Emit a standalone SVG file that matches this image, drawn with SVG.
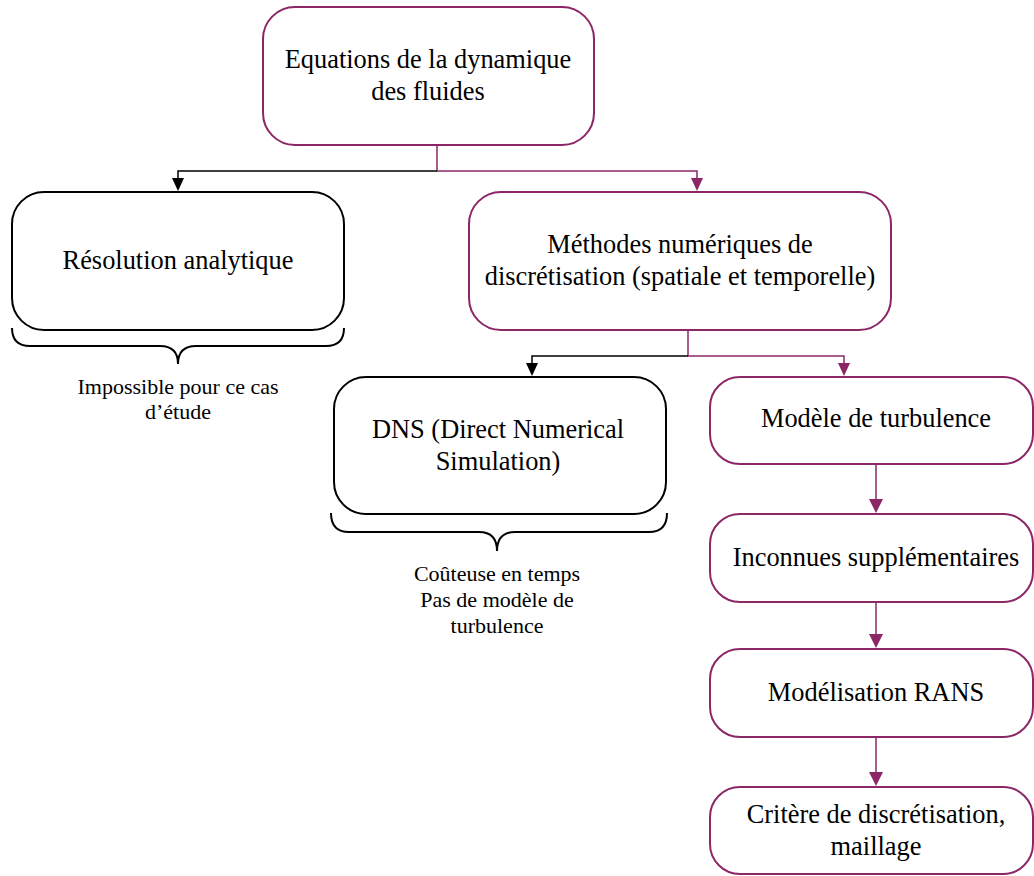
<svg xmlns="http://www.w3.org/2000/svg" width="1034" height="876" viewBox="0 0 1034 876">
<defs>
<style>
.box{fill:#fff;stroke-width:2}
.p{stroke:#8B2766}
.k{stroke:#000}
.t{font-family:"Liberation Serif","Times New Roman",serif;font-size:26.4px;fill:#000;text-anchor:middle}
.s{font-family:"Liberation Serif","Times New Roman",serif;font-size:22px;fill:#000;text-anchor:middle}
.ln{fill:none;stroke-width:1.5}
.br{fill:none;stroke:#000;stroke-width:2}
</style>
</defs>
<rect width="1034" height="876" fill="#fff"/>
<g id="connectors">
<path class="ln" d="M437,145 V171 H697 V180" stroke="#8B2766"/>
<path d="M691,178 L703,178 L697,191 Z" fill="#8B2766"/>
<path class="ln" d="M437,171 H178 V180" stroke="#000"/>
<path d="M172,178 L184,178 L178,191 Z" fill="#000"/>
<path class="ln" d="M688,330 V356 H844 V365" stroke="#8B2766"/>
<path d="M838,363 L850,363 L844,376 Z" fill="#8B2766"/>
<path class="ln" d="M688,356 H532 V365" stroke="#000"/>
<path d="M526,363 L538,363 L532,376 Z" fill="#000"/>
<path class="ln" d="M876,464 V500" stroke="#8B2766" stroke-width="2"/>
<path d="M869,499 L883,499 L876,513 Z" fill="#8B2766"/>
<path class="ln" d="M876,602 V635" stroke="#8B2766" stroke-width="2"/>
<path d="M869,634 L883,634 L876,648 Z" fill="#8B2766"/>
<path class="ln" d="M876,737 V773" stroke="#8B2766" stroke-width="2"/>
<path d="M869,772 L883,772 L876,786 Z" fill="#8B2766"/>
</g>
<g id="n-equations">
<rect class="box p" x="263" y="7" width="331" height="138" rx="32"/>
<text class="t" x="428" y="68">Equations de la dynamique</text>
<text class="t" x="428" y="100">des fluides</text>
</g>
<g id="n-resolution">
<rect class="box k" x="12" y="192" width="332" height="138" rx="32"/>
<text class="t" x="178" y="269">Résolution analytique</text>
</g>
<g id="n-resolution-note">
<path class="br" d="M12,328 Q12,346 30,346 L160,346 Q178,346 178,364 Q178,346 196,346 L326,346 Q344,346 344,328"/>
<text class="s" x="178" y="394">Impossible pour ce cas</text>
<text class="s" x="178" y="419">d’étude</text>
</g>
<g id="n-methodes">
<rect class="box p" x="469" y="192" width="422" height="138" rx="32"/>
<text class="t" x="680" y="253">Méthodes numériques de</text>
<text class="t" x="680" y="285">discrétisation (spatiale et temporelle)</text>
</g>
<g id="n-dns">
<rect class="box k" x="334" y="377" width="332" height="137" rx="32"/>
<text class="t" x="498" y="438">DNS (Direct Numerical</text>
<text class="t" x="498" y="470">Simulation)</text>
</g>
<g id="n-dns-note">
<path class="br" d="M331,513 Q331,532 349,532 L479,532 Q497,532 497,551 Q497,532 515,532 L649,532 Q667,532 667,513"/>
<text class="s" x="497" y="581">Coûteuse en temps</text>
<text class="s" x="497" y="607">Pas de modèle de</text>
<text class="s" x="497" y="633">turbulence</text>
</g>
<g id="n-modele">
<rect class="box p" x="710" y="377" width="323" height="87" rx="30"/>
<text class="t" x="876" y="427">Modèle de turbulence</text>
</g>
<g id="n-inconnues">
<rect class="box p" x="710" y="514" width="323" height="88" rx="30"/>
<text class="t" x="876" y="566">Inconnues supplémentaires</text>
</g>
<g id="n-rans">
<rect class="box p" x="710" y="649" width="323" height="88" rx="30"/>
<text class="t" x="876" y="701">Modélisation RANS</text>
</g>
<g id="n-critere">
<rect class="box p" x="710" y="787" width="323" height="87" rx="30"/>
<text class="t" x="876" y="823">Critère de discrétisation,</text>
<text class="t" x="876" y="855">maillage</text>
</g>
</svg>
